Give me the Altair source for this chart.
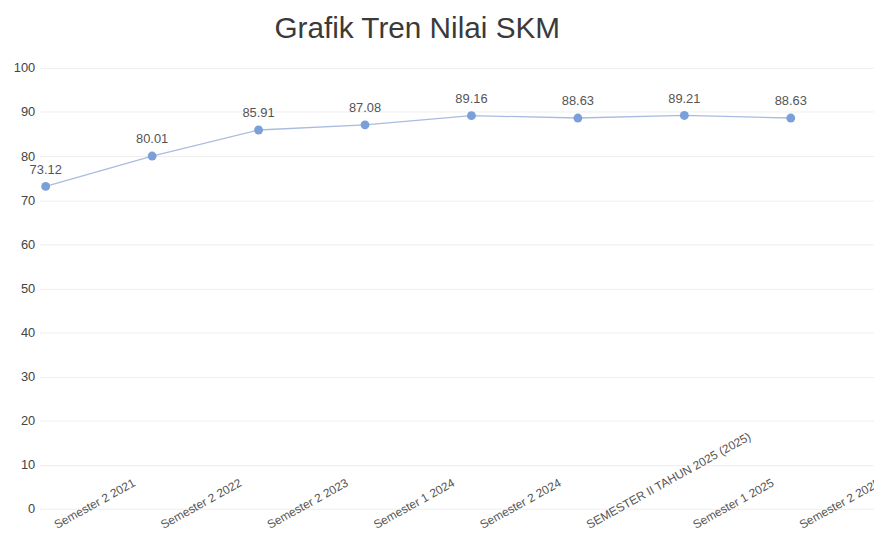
import altair as alt
import pandas as pd

categories = [
    "Semester 2 2021",
    "Semester 2 2022",
    "Semester 2 2023",
    "Semester 1 2024",
    "Semester 2 2024",
    "SEMESTER II TAHUN 2025 (2025)",
    "Semester 1 2025",
    "Semester 2 2025",
]
values = [73.12, 80.01, 85.91, 87.08, 89.16, 88.63, 89.21, 88.63]
y_ticks = [0, 10, 20, 30, 40, 50, 60, 70, 80, 90, 100]

df = pd.DataFrame({"periode": categories, "nilai": values})
df["label"] = df["nilai"].map(lambda v: f"{v:.2f}")

FONT = "Liberation Sans"

x_enc = alt.X(
    "periode:N",
    sort=categories,
    scale=alt.Scale(type="point", padding=0.419, align=0.067),
    axis=alt.Axis(
        title=None,
        labelAngle=-29,
        labelAlign="left",
        labelBaseline="alphabetic",
        labelPadding=20,
        labelOffset=11,
        labelFontSize=12,
        labelColor="#555555",
        labelFont=FONT,
        labelOverlap=False,
        labelLimit=400,
        ticks=False,
        tickSize=0,
        domain=False,
        grid=False,
    ),
)
y_enc = alt.Y(
    "nilai:Q",
    scale=alt.Scale(domain=[0, 100], nice=False),
    axis=alt.Axis(
        title=None,
        values=y_ticks,
        labelFontSize=13,
        labelColor="#444444",
        labelFont=FONT,
        labelPadding=5,
        ticks=False,
        domain=False,
        grid=True,
        gridColor="#eeeeee",
        gridWidth=1,
    ),
)

base = alt.Chart(df)

line = base.mark_line(color="#a9bcdf", strokeWidth=1.3).encode(x=x_enc, y=y_enc)
points = base.mark_circle(size=80, color="#7b9fd9", opacity=1).encode(
    x=alt.X("periode:N", sort=categories), y="nilai:Q"
)
texts = base.mark_text(
    dy=-17, fontSize=13, color="#555555", font=FONT, baseline="middle"
).encode(x=alt.X("periode:N", sort=categories), y="nilai:Q", text="label:N")

chart = (
    alt.layer(line, points, texts)
    .properties(
        width=842,
        height=445,
        title=alt.TitleParams(
            "Grafik Tren Nilai SKM",
            fontSize=30,
            font=FONT,
            fontWeight="normal",
            color="#3a3a3a",
            anchor="middle",
            dx=-40,
            offset=18,
        ),
        autosize=alt.AutoSizeParams(type="none"),
        padding={"left": 32, "top": 58, "right": 0, "bottom": 23},
        background="white",
    )
    .configure_view(stroke=None)
)

chart.save("out.html", embed_options={"renderer": "svg", "actions": False})
